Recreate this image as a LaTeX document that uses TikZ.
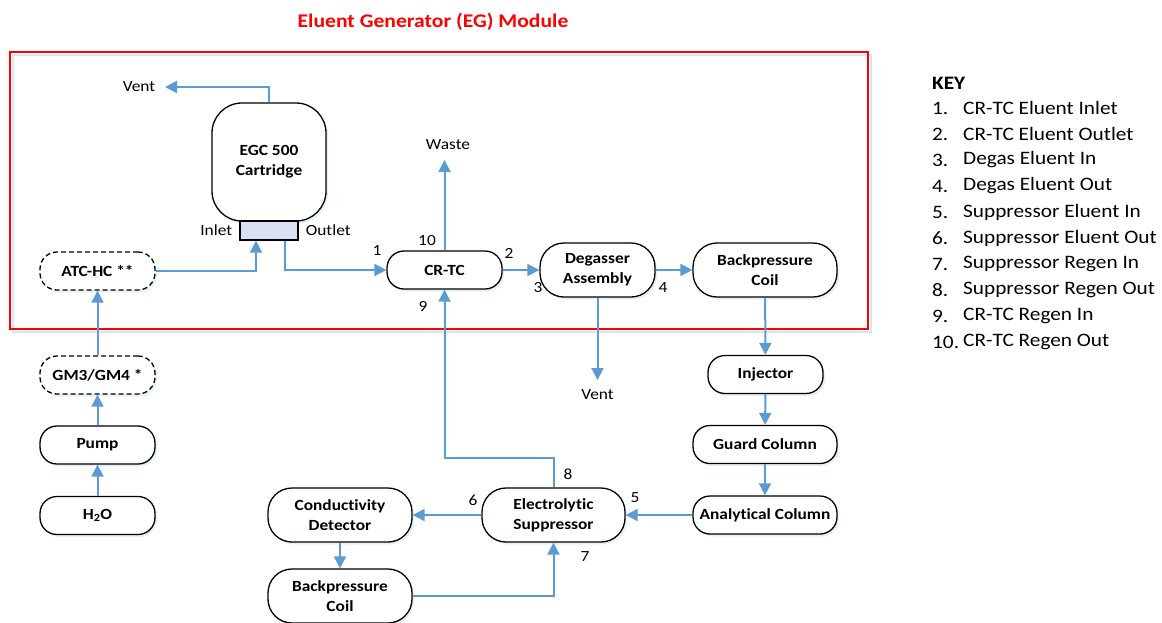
\documentclass[tikz,border=0pt]{standalone}
\usepackage{fontspec}
\setmainfont{Carlito}[FakeStretch=1.12, Ligatures=NoCommon]
\usetikzlibrary{arrows.meta,shadows}
\definecolor{flowblue}{RGB}{91,155,213}
\definecolor{portfill}{RGB}{218,224,242}
\definecolor{egred}{RGB}{255,0,0}

\begin{document}
\begin{tikzpicture}[x=1pt,y=-1pt,
  unit/.style={draw, line width=1.3pt, fill=white, align=center,
    minimum width=115pt, minimum height=38pt, rounded corners=17pt, inner sep=2pt,
    font=\fontsize{15.5}{20}\selectfont\bfseries,
    drop shadow={shadow xshift=2pt, shadow yshift=-2.5pt, fill=flowblue!30, opacity=0.5}},
  bigunit/.style={unit, minimum width=144pt, minimum height=54pt, rounded corners=24pt},
  optunit/.style={unit, dash pattern=on 5pt off 3pt},
  port/.style={font=\fontsize{15.5}{20}\selectfont, inner sep=1pt},
  flow/.style={draw=flowblue, line width=2pt, -{Triangle[length=12pt,width=12pt]}},
  keytext/.style={anchor=west, inner sep=0pt, font=\fontsize{19}{22}\selectfont}]

  \useasboundingbox (0,0) rectangle (1162,622);

  % EG module frame and title
  \node[text=egred, font=\fontsize{19.3}{22}\selectfont\bfseries] (title) at (433,22) {Eluent Generator (EG) Module};
  \draw[flowblue!25, line width=2pt] (12.5,54.5) rectangle (870.5,331.5);
  \draw[egred, line width=2pt] (10,52) rectangle (868,329);

  % eluent source column
  \node[unit] (water) at (97.5,515.5) {H\textsubscript{2}O};
  \node[unit] (pump) at (97.5,445) {Pump};
  \node[optunit] (gm) at (97.5,375) {GM3/GM4 *};
  \node[optunit] (atc) at (97.5,271) {ATC-HC **};

  % cartridge
  \node[unit, minimum width=114pt, minimum height=118pt, rounded corners=30pt] (egc) at (269,162) {EGC 500\\Cartridge};
  \node[draw, line width=1.3pt, fill=portfill, minimum width=58pt, minimum height=19pt, inner sep=0pt] (port) at (269,230.5) {};
  \node[port, anchor=east] (inlet) at ([xshift=-6pt]port.west) {Inlet};
  \node[port, anchor=west] (outlet) at ([xshift=6pt]port.east) {Outlet};

  % eluent path
  \node[unit] (crtc) at (444.5,270) {CR-TC};
  \node[unit, minimum height=54pt, rounded corners=24pt] (degas) at (597.5,270) {Degasser\\Assembly};
  \node[bigunit] (bpc) at (765,270) {Backpressure\\Coil};
  \node[unit] (inj) at (765.5,374.5) {Injector};
  \node[unit, minimum width=144pt] (guard) at (765,444.5) {Guard Column};
  \node[unit, minimum width=144pt] (anal) at (765,515) {Analytical Column};
  \node[bigunit, minimum width=143pt] (supp) at (553.5,515) {Electrolytic\\Suppressor};
  \node[bigunit] (cond) at (340,515) {Conductivity\\Detector};
  \node[bigunit] (bpc2) at (340,596) {Backpressure\\Coil};

  % free ends
  \coordinate (ventend) at (165,87);
  \coordinate (wasteend) at (444.5,160);
  \coordinate (ventend2) at (597.5,380);
  \node[port] (vent) at (139,87) {Vent};
  \node[port] (waste) at (448,145) {Waste};
  \node[port] (vent2) at (597.5,395) {Vent};

  % port numbers
  \node[port] (n1) at (377,251) {1};
  \node[port] (n2) at (509,253) {2};
  \node[port] (n3) at (538,288) {3};
  \node[port] (n4) at (663,288) {4};
  \node[port] (n5) at (635,498) {5};
  \node[port] (n6) at (473,500) {6};
  \node[port] (n7) at (585,557) {7};
  \node[port] (n8) at (568,474) {8};
  \node[port] (n9) at (423,306) {9};
  \node[port] (n10) at (427,241) {10};

  % connections
  \draw[flow] (water) -- (pump);
  \draw[flow] (pump) -- (gm);
  \draw[flow] (gm) -- (atc);
  \draw[flow] (atc.east) -| ([xshift=-13pt]port.south);
  \draw[flow] ([xshift=16pt]port.south) |- (crtc.west);
  \draw[flow] (egc.north) |- (ventend);
  \draw[flow] (crtc.north) -- (wasteend);
  \draw[flow] (crtc) -- (degas);
  \draw[flow] (degas) -- (bpc);
  \draw[flow] (degas.south) -- (ventend2);
  \draw[flow] (bpc) -- (inj);
  \draw[flow] (inj) -- (guard);
  \draw[flow] (guard) -- (anal);
  \draw[flow] (anal) -- (supp);
  \draw[flow] (supp) -- (cond);
  \draw[flow] (cond) -- (bpc2);
  \draw[flow] (bpc2.east) -| (supp.south);
  \draw[flow] (supp.north) -- ++(0,-29) -| (crtc.south);

  % key
  \node[keytext, font=\fontsize{19}{22}\selectfont\bfseries] (key) at (932,83) {KEY};
  \foreach \txt [count=\i] in {CR-TC Eluent Inlet, CR-TC Eluent Outlet, Degas Eluent In,
      Degas Eluent Out, Suppressor Eluent In, Suppressor Eluent Out, Suppressor Regen In,
      Suppressor Regen Out, CR-TC Regen In, CR-TC Regen Out}{
    \node[keytext] (keynum\i) at (932,82+26*\i) {\i.};
    \node[keytext] (key\i) at (963,82+26*\i) {\txt};
  }
\end{tikzpicture}
\end{document}
